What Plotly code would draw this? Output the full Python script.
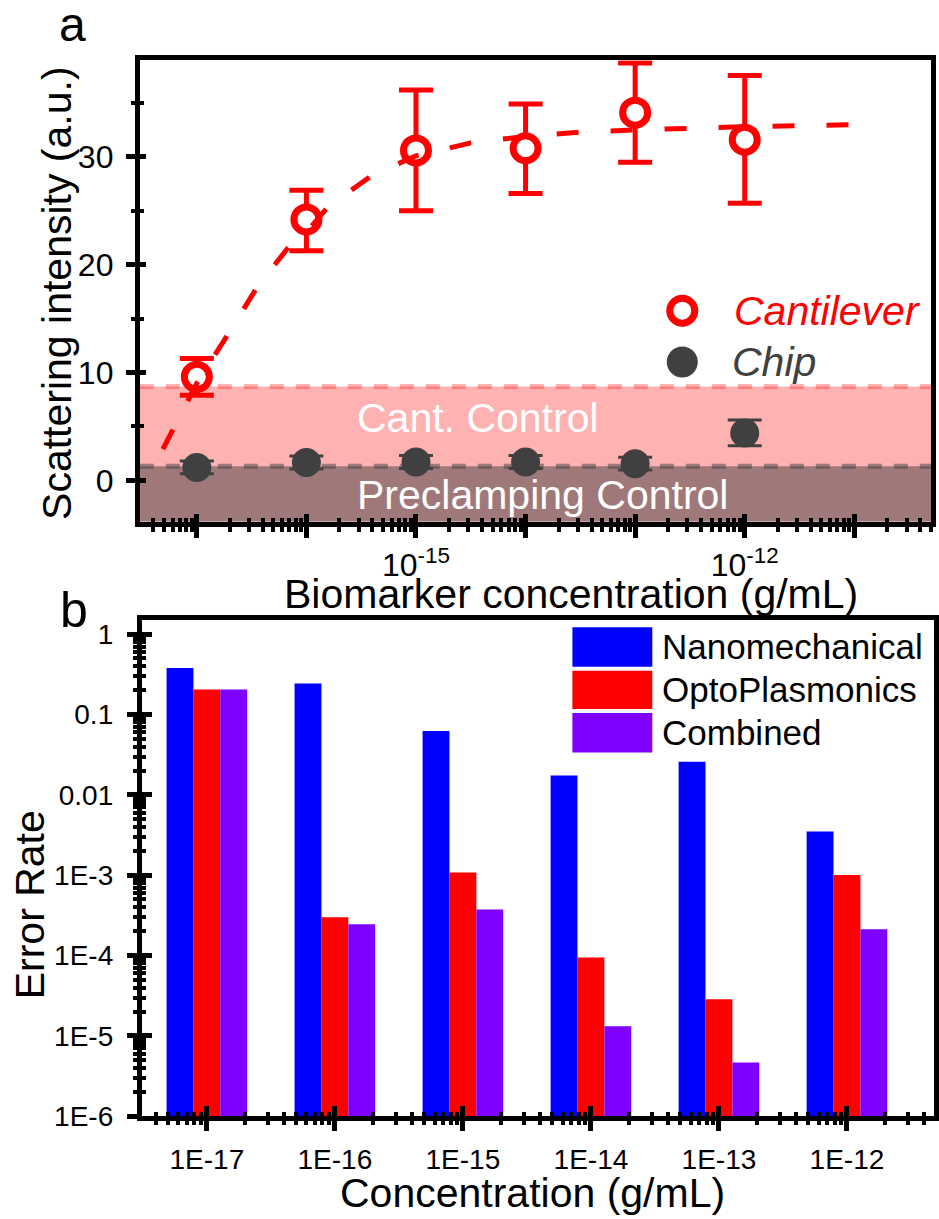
import math
import plotly.graph_objects as go

# ---------------- Panel a data ----------------
conc_exp_a = [-17, -16, -15, -14, -13, -12]
cant_y = [9.6, 24.2, 30.6, 30.8, 34.1, 31.6]
cant_err_plus = [1.7, 2.7, 5.6, 4.1, 4.6, 5.95]
cant_err_minus = [1.7, 2.9, 5.6, 4.2, 4.6, 5.9]
chip_y = [1.2, 1.65, 1.7, 1.7, 1.55, 4.4]
chip_err = [0.6, 0.6, 0.6, 0.6, 0.6, 1.2]
fit_logx = [-17.31, -17.0, -16.7, -16.45, -16.15, -16.0, -15.8, -15.4, -15.0,
            -14.5, -14.0, -13.5, -13.0, -12.5, -12.0, -11.5, -10.86]
fit_y = [2.9, 9.0, 13.8, 17.9, 21.8, 23.0, 25.4, 28.3, 30.1,
         31.3, 31.9, 32.3, 32.5, 32.7, 32.8, 32.9, 33.0]
cant_control_level = 8.7
preclamp_level = 1.3
a_xtick_exp = [-17, -16, -15, -14, -13, -12, -11]
a_xtick_text = ["", "", "10<sup>-15</sup>", "", "", "10<sup>-12</sup>", ""]
a_ytick_vals = [0, 10, 20, 30]
a_yminor_vals = [5, 15, 25, 35]

# ---------------- Panel b data ----------------
categories_b = ["1E-17", "1E-16", "1E-15", "1E-14", "1E-13", "1E-12"]
exp_b = [-17, -16, -15, -14, -13, -12]
nano = [0.38, 0.244, 0.0622, 0.0174, 0.0259, 0.00351]
opto = [0.205, 3.0e-4, 1.08e-3, 9.5e-5, 2.86e-5, 1.01e-3]
combined = [0.205, 2.45e-4, 3.74e-4, 1.32e-5, 4.69e-6, 2.13e-4]
b_ytick_vals = [1, 0.1, 0.01, 1e-3, 1e-4, 1e-5, 1e-6]
b_ytick_text = ["1", "0.1", "0.01", "1E-3", "1E-4", "1E-5", "1E-6"]

RED = "#FF0000"
CHIP = "#404040"
BLUE = "#0000FF"
PURPLE = "#7F00FF"
FONT = "Liberation Sans, Arial, sans-serif"
W, H = 939, 1219

a_xrange = [-17.52, -10.3]
a_yrange = [-3.84, 38.96]
b_xrange = [-17.508, -11.32]
b_yrange = [-6.0, 0.172]

a_xdom = [140 / W, 932 / W]
a_ydom = [1 - 520 / H, 1 - 52 / H]
b_xdom = [142 / W, 935 / W]
b_ydom = [1 - 1123 / H, 1 - 620 / H]

conc_a = [10.0 ** e for e in conc_exp_a]
fit_x = [10.0 ** v for v in fit_logx]

a_xminor = [k * 10.0 ** n for n in range(-18, -10) for k in range(2, 10)
            if a_xrange[0] <= n + math.log10(k) <= a_xrange[1]]
b_xminor = [n + math.log10(k) for n in range(-18, -11) for k in range(2, 10)
            if b_xrange[0] <= n + math.log10(k) <= b_xrange[1]]
b_yminor = [k * 10.0 ** n for n in range(-6, 1) for k in range(2, 10)
            if n + math.log10(k) <= b_yrange[1]]

fig = go.Figure()

# ---- panel a traces ----
fig.add_trace(go.Scatter(
    x=conc_a, y=chip_y, mode="markers", xaxis="x", yaxis="y",
    marker=dict(size=29, color=CHIP),
    error_y=dict(type="data", array=chip_err, color=CHIP, thickness=3, width=17),
    showlegend=False, hoverinfo="skip"))
fig.add_trace(go.Scatter(
    x=conc_a, y=cant_y, mode="markers", xaxis="x", yaxis="y",
    marker=dict(size=25, color="white", line=dict(color=RED, width=7)),
    error_y=dict(type="data", symmetric=False, array=cant_err_plus,
                 arrayminus=cant_err_minus, color=RED, thickness=5, width=17),
    showlegend=False, hoverinfo="skip"))
fig.add_trace(go.Scatter(
    x=fit_x, y=fit_y, mode="lines", xaxis="x", yaxis="y",
    line=dict(color=RED, width=5, dash="22px,32px"),
    showlegend=False, hoverinfo="skip"))

# ---- panel b traces ----
for name, vals, col in [("Nanomechanical", nano, BLUE),
                        ("OptoPlasmonics", opto, RED),
                        ("Combined", combined, PURPLE)]:
    fig.add_trace(go.Bar(x=exp_b, y=vals, name=name, xaxis="x2", yaxis="y2",
                         marker=dict(color=col, line=dict(width=0)),
                         showlegend=False, hoverinfo="skip"))

# dummy traces so overlay axes (inside ticks) render
fig.add_trace(go.Scatter(x=[None], y=[None], xaxis="x3", yaxis="y", showlegend=False, hoverinfo="skip"))
fig.add_trace(go.Scatter(x=[None], y=[None], xaxis="x", yaxis="y3", showlegend=False, hoverinfo="skip"))
fig.add_trace(go.Scatter(x=[None], y=[None], xaxis="x4", yaxis="y2", showlegend=False, hoverinfo="skip"))
fig.add_trace(go.Scatter(x=[None], y=[None], xaxis="x2", yaxis="y4", showlegend=False, hoverinfo="skip"))

common = dict(showgrid=False, zeroline=False, color="black")
tickf_a = dict(family=FONT, size=32, color="black")
tickf_b = dict(family=FONT, size=28, color="black")

fig.update_layout(
    width=W, height=H, margin=dict(l=0, r=0, t=0, b=0),
    paper_bgcolor="white", plot_bgcolor="white",
    font=dict(family=FONT, color="black"),
    barmode="group", bargap=0.37, bargroupgap=0,
    showlegend=False,
    xaxis=dict(**common, type="log", range=a_xrange, domain=a_xdom, anchor="y",
               tickmode="array", tickvals=[10.0 ** e for e in a_xtick_exp], ticktext=a_xtick_text,
               ticks="outside", ticklen=11, tickwidth=5, tickcolor="black",
               showline=True, linewidth=5, linecolor="black", mirror=True,
               tickfont=tickf_a, ticklabelstandoff=0,
               minor=dict(tickmode="array", tickvals=a_xminor, ticks="outside",
                          ticklen=5, tickwidth=4, tickcolor="black")),
    xaxis3=dict(**common, type="log", range=a_xrange, overlaying="x", anchor="y",
                tickmode="array", tickvals=[10.0 ** e for e in a_xtick_exp],
                ticks="inside", ticklen=8, tickwidth=5, tickcolor="black",
                showticklabels=False, showline=False,
                minor=dict(tickmode="array", tickvals=a_xminor, ticks="inside",
                           ticklen=4, tickwidth=4, tickcolor="black")),
    yaxis=dict(**common, range=a_yrange, domain=a_ydom, anchor="x",
               tickmode="array", tickvals=a_ytick_vals,
               ticks="outside", ticklen=9, tickwidth=5, tickcolor="black",
               showline=True, linewidth=5, linecolor="black", mirror=True,
               tickfont=tickf_a, ticklabelstandoff=6,
               minor=dict(tickmode="array", tickvals=a_yminor_vals, ticks="outside",
                          ticklen=4, tickwidth=4, tickcolor="black")),
    yaxis3=dict(**common, range=a_yrange, overlaying="y", anchor="x",
                tickmode="array", tickvals=a_ytick_vals,
                ticks="inside", ticklen=6, tickwidth=5, tickcolor="black",
                showticklabels=False, showline=False,
                minor=dict(tickmode="array", tickvals=a_yminor_vals, ticks="inside",
                           ticklen=4, tickwidth=4, tickcolor="black")),
    xaxis2=dict(**common, range=b_xrange, domain=b_xdom, anchor="y2",
                tickmode="array", tickvals=exp_b, ticktext=categories_b,
                ticks="outside", ticklen=10, tickwidth=5, tickcolor="black",
                showline=True, linewidth=5, linecolor="black", mirror=True,
                tickfont=tickf_b, ticklabelstandoff=4,
                minor=dict(tickmode="array", tickvals=b_xminor, ticks="outside",
                           ticklen=4, tickwidth=4, tickcolor="black")),
    xaxis4=dict(**common, range=b_xrange, overlaying="x2", anchor="y2",
                tickmode="array", tickvals=exp_b,
                ticks="inside", ticklen=10, tickwidth=5, tickcolor="black",
                showticklabels=False, showline=False,
                minor=dict(tickmode="array", tickvals=b_xminor, ticks="inside",
                           ticklen=4, tickwidth=4, tickcolor="black")),
    yaxis2=dict(**common, type="log", range=b_yrange, domain=b_ydom, anchor="x2",
                tickmode="array", tickvals=b_ytick_vals, ticktext=b_ytick_text,
                ticks="outside", ticklen=10, tickwidth=5, tickcolor="black",
                showline=True, linewidth=5, linecolor="black", mirror=True,
                tickfont=tickf_b, ticklabelstandoff=8,
                minor=dict(tickmode="array", tickvals=b_yminor, ticks="outside",
                           ticklen=4, tickwidth=4, tickcolor="black")),
    yaxis4=dict(**common, type="log", range=b_yrange, overlaying="y2", anchor="x2",
                tickmode="array", tickvals=b_ytick_vals,
                ticks="inside", ticklen=10, tickwidth=5, tickcolor="black",
                showticklabels=False, showline=False,
                minor=dict(tickmode="array", tickvals=b_yminor, ticks="inside",
                           ticklen=4, tickwidth=4, tickcolor="black")),
)

# ---- control bands (panel a) ----
shapes = [
    dict(type="rect", xref="x domain", yref="y", x0=0, x1=1, y0=a_yrange[0], y1=cant_control_level,
         fillcolor="rgba(255,0,0,0.3)", line=dict(width=0), layer="below"),
    dict(type="rect", xref="x domain", yref="y", x0=0, x1=1, y0=a_yrange[0], y1=preclamp_level,
         fillcolor="rgba(64,64,64,0.5)", line=dict(width=0), layer="below"),
    dict(type="line", xref="x domain", yref="y", x0=0, x1=1, y0=cant_control_level, y1=cant_control_level,
         line=dict(color="rgba(255,0,0,0.3)", width=5, dash="14px,12px"), layer="below"),
    dict(type="line", xref="x domain", yref="y", x0=0, x1=1, y0=preclamp_level, y1=preclamp_level,
         line=dict(color="rgba(64,64,64,0.5)", width=5, dash="14px,12px"), layer="below"),
]


def px(x):
    return x / W


def py(y):
    return 1 - y / H


# ---- panel a legend (custom, large markers) ----
shapes.append(dict(type="circle", xref="paper", yref="paper", xsizemode="pixel", ysizemode="pixel",
                   xanchor=px(683), yanchor=py(306), x0=-12.5, x1=12.5, y0=-12.5, y1=12.5,
                   fillcolor="white", line=dict(color=RED, width=7)))
shapes.append(dict(type="circle", xref="paper", yref="paper", xsizemode="pixel", ysizemode="pixel",
                   xanchor=px(683), yanchor=py(358), x0=-15.5, x1=15.5, y0=-15.5, y1=15.5,
                   fillcolor=CHIP, line=dict(width=0)))

# ---- panel b legend (custom, large swatches) ----
leg_b = [("Nanomechanical", BLUE, 627, 667), ("OptoPlasmonics", RED, 671, 710), ("Combined", PURPLE, 714, 754)]
for name, col, y0, y1 in leg_b:
    shapes.append(dict(type="rect", xref="paper", yref="paper", x0=px(573), x1=px(653),
                       y0=py(y1), y1=py(y0), fillcolor=col, line=dict(width=0)))

fig.update_layout(shapes=shapes)

ann = []
ann.append(dict(text="<i>Cantilever</i>", xref="paper", yref="paper", x=px(733), y=py(306),
                xanchor="left", yanchor="middle", showarrow=False,
                font=dict(family=FONT, size=41, color=RED)))
ann.append(dict(text="<i>Chip</i>", xref="paper", yref="paper", x=px(731), y=py(358),
                xanchor="left", yanchor="middle", showarrow=False,
                font=dict(family=FONT, size=41, color=CHIP)))
for name, col, y0, y1 in leg_b:
    ann.append(dict(text=name, xref="paper", yref="paper", x=px(661), y=py((y0 + y1) / 2),
                    xanchor="left", yanchor="middle", showarrow=False,
                    font=dict(family=FONT, size=35, color="black")))

# band labels
ann.append(dict(text="Cant. Control", xref="x", yref="y", x=-15.56, y=5.75,
                xanchor="left", yanchor="middle", showarrow=False,
                font=dict(family=FONT, size=41, color="white")))
ann.append(dict(text="Preclamping Control", xref="x", yref="y", x=-15.56, y=-1.4,
                xanchor="left", yanchor="middle", showarrow=False,
                font=dict(family=FONT, size=41, color="white")))

# axis titles
ann.append(dict(text="Scattering intensity (a.u.)", xref="paper", yref="paper", x=px(57), y=py(288),
                xanchor="center", yanchor="middle", textangle=-90, showarrow=False,
                font=dict(family=FONT, size=41, color="black")))
ann.append(dict(text="Biomarker concentration (g/mL)", xref="paper", yref="paper", x=px(572), y=py(593),
                xanchor="center", yanchor="middle", showarrow=False,
                font=dict(family=FONT, size=41, color="black")))
ann.append(dict(text="Error Rate", xref="paper", yref="paper", x=px(30), y=py(908),
                xanchor="center", yanchor="middle", textangle=-90, showarrow=False,
                font=dict(family=FONT, size=41, color="black")))
ann.append(dict(text="Concentration (g/mL)", xref="paper", yref="paper", x=px(533), y=py(1201),
                xanchor="center", yanchor="middle", showarrow=False,
                font=dict(family=FONT, size=41, color="black")))

# panel labels
ann.append(dict(text="a", xref="paper", yref="paper", x=px(73), y=py(16),
                xanchor="center", yanchor="middle", showarrow=False,
                font=dict(family=FONT, size=48, color="black")))
ann.append(dict(text="b", xref="paper", yref="paper", x=px(74), y=py(609),
                xanchor="center", yanchor="middle", showarrow=False,
                font=dict(family=FONT, size=50, color="black")))

fig.update_layout(annotations=ann)

fig.write_html("out.html", config={"displayModeBar": False},
               post_script="document.body.style.margin='8px 0px 0px 0px';")
